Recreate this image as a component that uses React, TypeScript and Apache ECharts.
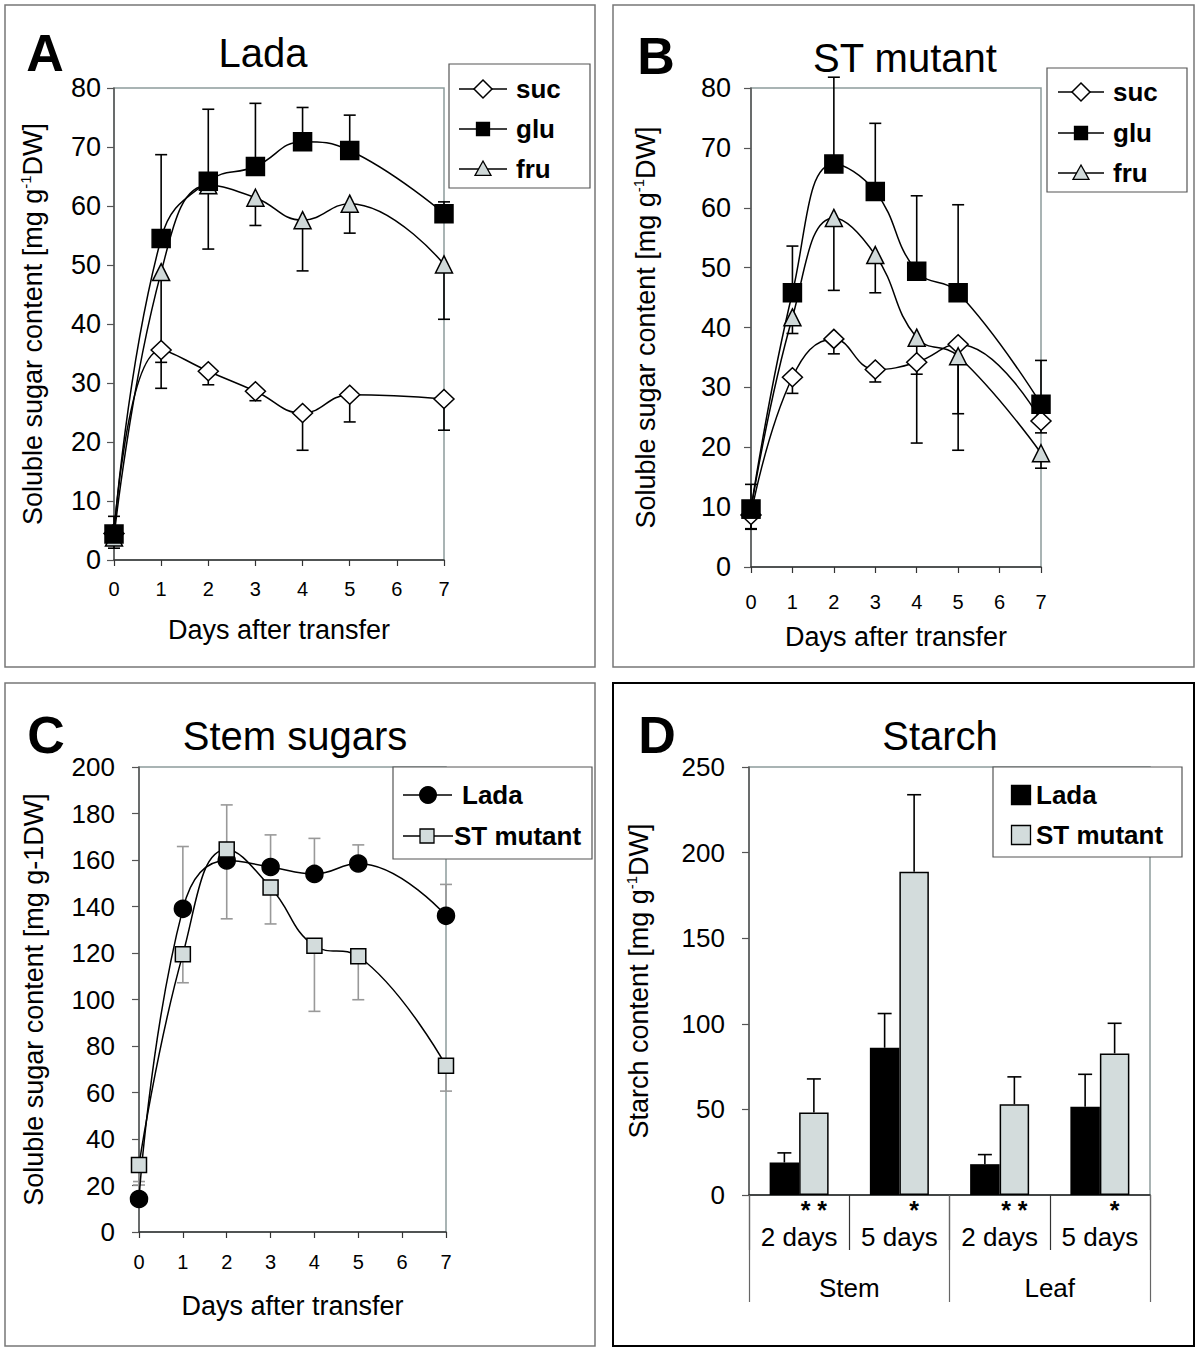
import React, { useEffect, useRef } from "react";
import * as echarts from "echarts";

// ---------- data ----------
const days = [0, 1, 2, 3, 4, 5, 7];

// Panel A (Lada leaf sugars)
const sucA = [4.5, 35.6, 32, 28.6, 24.9, 28, 27.3];
const sucErrA = [2, 6.5, 2.3, 1.6, 6.3, 4.6, 5.3]; // lower
const gluA = [4.4, 54.5, 64.2, 66.7, 70.9, 69.4, 58.7];
const gluErrA = [3, 14.2, 12.2, 10.7, 5.8, 6, 2]; // upper
const fruA = [3.8, 48.8, 63.5, 61.4, 57.6, 60.4, 50.1];
const fruErrA = [1.8, 15.3, 10.8, 4.7, 8.6, 5, 9.3]; // lower

// Panel B (ST mutant leaf sugars)
const sucB = [8.7, 31.7, 38.1, 33, 34.2, 37.2, 24.4];
const sucErrB = [2.4, 2.7, 2.5, 2.1, 2, 11.6, 2]; // lower
const gluB = [9.7, 45.8, 67.3, 62.7, 49.4, 45.8, 27.2];
const gluErrB = [4.1, 7.8, 14.5, 11.4, 12.6, 14.7, 7.3]; // upper
const fruB = [9.6, 41.7, 58.3, 52.1, 38.3, 35.2, 19];
const fruErrB = [3.2, 2.7, 12.1, 6.3, 17.6, 15.7, 2.5]; // lower

// Panel C (stem sugars)
const ladaC = [14.2, 139, 159.8, 157, 154, 158.5, 136];
const ladaErrC = [7.5, 26.8, 23.9, 13.8, 15.3, 8, 13.5]; // upper
const stC = [28.8, 119.5, 164.5, 148.2, 123.1, 118.6, 71.5];
const stErrC = [8.6, 12.3, 29.8, 15.7, 28.2, 18.7, 10.9]; // lower

// Panel D (starch)
const partLabels = ["2 days", "5 days", "2 days", "5 days"];
const organLabels = ["Stem", "Leaf"];
const ladaD = [19, 86, 18, 51.5];
const ladaErrD = [5.6, 20, 5.6, 19];
const stD = [48.2, 188.8, 53, 82.7];
const stErrD = [19.6, 45, 16, 17.6];
const sigD = ["* *", "*", "* *", "*"];

// ---------- styles ----------
const FONT = "'Liberation Sans', Arial, Helvetica, sans-serif";
const FRU_FILL = "#d0d9d9";
const ST_FILL = "#d3dcdc";
const FRAME_GRAY = "#8d9c9c";
const BAR_W = 29.5;

const supRich = {
  sup: { fontSize: 15, lineHeight: 14, verticalAlign: "top", fontFamily: FONT, color: "#000" },
};

function lineSeries(name: string, vals: number[], gi: number, symbol: string, size: number | number[], fill: string) {
  return {
    type: "line",
    name,
    xAxisIndex: gi,
    yAxisIndex: gi,
    data: days.map((d, i) => [d, vals[i]]),
    smooth: 0.45,
    symbol,
    symbolSize: size,
    showAllSymbol: true,
    lineStyle: { color: "#000", width: 1.5 },
    itemStyle: { color: fill, borderColor: "#000", borderWidth: 1.5 },
    z: 3,
  };
}

function errSeries(vals: number[], errs: number[], dir: number, gi: number, color: string) {
  return {
    type: "custom",
    xAxisIndex: gi,
    yAxisIndex: gi,
    encode: { x: 0, y: [1, 2] },
    data: days.map((d, i) => [d, vals[i], vals[i] + dir * errs[i]]),
    z: 2,
    renderItem: (params: any, api: any) => {
      const x = api.value(0);
      const p0 = api.coord([x, api.value(1)]);
      const p1 = api.coord([x, api.value(2)]);
      const st = { stroke: color, lineWidth: 1.6 };
      return {
        type: "group",
        children: [
          { type: "line", shape: { x1: p0[0], y1: p0[1], x2: p1[0], y2: p1[1] }, style: st },
          { type: "line", shape: { x1: p1[0] - 6, y1: p1[1], x2: p1[0] + 6, y2: p1[1] }, style: st },
        ],
      };
    },
  };
}

function barErrSeries(vals: number[], errs: number[], side: number) {
  return {
    type: "custom",
    xAxisIndex: 3,
    yAxisIndex: 3,
    encode: { x: 0, y: [1, 2] },
    data: vals.map((v, i) => [i, v, v + errs[i]]),
    z: 4,
    renderItem: (params: any, api: any) => {
      const c = api.value(0);
      const p0 = api.coord([c, api.value(1)]);
      const p1 = api.coord([c, api.value(2)]);
      const x = p0[0] + (side * BAR_W) / 2;
      const st = { stroke: "#000", lineWidth: 1.6 };
      return {
        type: "group",
        children: [
          { type: "line", shape: { x1: x, y1: p0[1], x2: x, y2: p1[1] }, style: st },
          { type: "line", shape: { x1: x - 7, y1: p1[1], x2: x + 7, y2: p1[1] }, style: st },
        ],
      };
    },
  };
}

function dayAxis(gi: number, labelMargin: number, nameGap: number) {
  return {
    type: "value",
    gridIndex: gi,
    min: 0,
    max: 7,
    interval: 1,
    name: "Days after transfer",
    nameLocation: "middle",
    nameGap,
    nameTextStyle: { fontSize: 27, color: "#000", fontFamily: FONT },
    axisLine: { show: true, onZero: false, lineStyle: { color: "#333", width: 1.5 } },
    axisTick: { show: true, length: 6, lineStyle: { color: "#333", width: 1.2 } },
    axisLabel: { fontSize: 20, color: "#000", margin: labelMargin, fontFamily: FONT },
    splitLine: { show: false },
  };
}

function valAxis(gi: number, max: number, interval: number, name: string, nameGap: number, labelSize: number, labelMargin: number) {
  return {
    type: "value",
    gridIndex: gi,
    min: 0,
    max,
    interval,
    name,
    nameLocation: "middle",
    nameGap,
    nameRotate: 90,
    nameTextStyle: { fontSize: 27, lineHeight: 30, color: "#000", fontFamily: FONT, rich: supRich },
    axisLine: { show: true, lineStyle: { color: "#555", width: 1.5 } },
    axisTick: { show: true, length: 7, lineStyle: { color: "#555", width: 1.2 } },
    axisLabel: { fontSize: labelSize, color: "#000", margin: labelMargin, fontFamily: FONT },
    splitLine: { show: false },
  };
}

function frame(x: number, y: number, w: number, h: number, color: string, lw: number) {
  return { type: "rect", shape: { x, y, width: w, height: h }, style: { fill: "none", stroke: color, lineWidth: lw }, z: 100 };
}
function txt(text: string, x: number, y: number, size: number, bold = false, align = "center") {
  return {
    type: "text",
    x,
    y,
    z: 102,
    style: {
      text,
      fill: "#000",
      font: `${bold ? "bold " : ""}${size}px ${FONT}`,
      align,
      verticalAlign: "middle",
    },
  };
}
function box(x: number, y: number, w: number, h: number) {
  return { type: "rect", shape: { x, y, width: w, height: h }, style: { fill: "#fff", stroke: "#555", lineWidth: 1.2 }, z: 100 };
}
function hline(x1: number, x2: number, y: number) {
  return { type: "line", shape: { x1, y1: y, x2, y2: y }, style: { stroke: "#000", lineWidth: 1.5 }, z: 101 };
}
function diamond(cx: number, cy: number, r: number) {
  return {
    type: "polygon",
    shape: { points: [[cx, cy - r], [cx + r, cy], [cx, cy + r], [cx - r, cy]] },
    style: { fill: "#fff", stroke: "#000", lineWidth: 1.5 },
    z: 102,
  };
}
function square(cx: number, cy: number, s: number, fill: string) {
  return {
    type: "rect",
    shape: { x: cx - s / 2, y: cy - s / 2, width: s, height: s },
    style: { fill, stroke: "#000", lineWidth: 1.3 },
    z: 102,
  };
}
function triangle(cx: number, cy: number, r: number) {
  return {
    type: "polygon",
    shape: { points: [[cx, cy - r], [cx + r, cy + r * 0.8], [cx - r, cy + r * 0.8]] },
    style: { fill: FRU_FILL, stroke: "#000", lineWidth: 1.3 },
    z: 102,
  };
}
function dot(cx: number, cy: number, r: number) {
  return { type: "circle", shape: { cx, cy, r }, style: { fill: "#000" }, z: 102 };
}

function sugarLegend(x: number, y: number, w: number, h: number, rows: number[], lx1: number, lx2: number, tx: number) {
  const mx = (lx1 + lx2) / 2;
  return [
    box(x, y, w, h),
    hline(lx1, lx2, rows[0]),
    diamond(mx, rows[0], 9),
    txt("suc", tx, rows[0], 26, true, "left"),
    hline(lx1, lx2, rows[1]),
    square(mx, rows[1], 13, "#000"),
    txt("glu", tx, rows[1], 26, true, "left"),
    hline(lx1, lx2, rows[2]),
    triangle(mx, rows[2], 8),
    txt("fru", tx, rows[2], 26, true, "left"),
  ];
}

export default function App() {
  const ref = useRef<HTMLDivElement>(null);
  useEffect(() => {
    if (!ref.current) return;
    const chart = echarts.init(ref.current, undefined, { renderer: "svg" });
    const sugarName = "Soluble sugar content [mg g{sup|-1}DW]";
    const option: any = {
      animation: false,
      backgroundColor: "#fff",
      textStyle: { fontFamily: FONT },
      grid: [
        { left: 114, top: 88, width: 330, height: 472, show: true, borderColor: FRAME_GRAY, borderWidth: 1.5, backgroundColor: "transparent" },
        { left: 751, top: 88, width: 290, height: 479, show: true, borderColor: FRAME_GRAY, borderWidth: 1.5, backgroundColor: "transparent" },
        { left: 139, top: 767, width: 307, height: 465, show: true, borderColor: FRAME_GRAY, borderWidth: 1.5, backgroundColor: "transparent" },
        { left: 749, top: 767, width: 401, height: 428, show: true, borderColor: FRAME_GRAY, borderWidth: 1.5, backgroundColor: "transparent" },
      ],
      xAxis: [
        dayAxis(0, 19, 56),
        dayAxis(1, 25, 56),
        dayAxis(2, 20, 60),
        {
          type: "category",
          gridIndex: 3,
          data: partLabels,
          axisLine: { show: true, lineStyle: { color: "#222", width: 1.5 } },
          axisTick: { show: true, length: 55, lineStyle: { color: "#333", width: 1.2 } },
          axisLabel: { fontSize: 26, color: "#000", margin: 29, fontFamily: FONT },
          splitLine: { show: false },
        },
        {
          type: "category",
          gridIndex: 3,
          position: "bottom",
          data: organLabels,
          axisLine: { show: false },
          axisTick: { show: true, length: 107, lineStyle: { color: "#666", width: 1.2 } },
          axisLabel: { fontSize: 26, color: "#000", margin: 80, fontFamily: FONT },
          splitLine: { show: false },
        },
      ],
      yAxis: [
        valAxis(0, 80, 10, sugarName, 66, 27, 13),
        valAxis(1, 80, 10, sugarName, 90, 27, 20),
        valAxis(2, 200, 20, "Soluble sugar content [mg g-1DW]", 90, 26, 24),
        valAxis(3, 250, 50, "Starch content [mg g{sup|-1}DW]", 95, 26, 24),
      ],
      series: [
        // A
        errSeries(sucA, sucErrA, -1, 0, "#000"),
        errSeries(gluA, gluErrA, 1, 0, "#000"),
        errSeries(fruA, fruErrA, -1, 0, "#000"),
        lineSeries("suc", sucA, 0, "diamond", [20, 19], "#fff"),
        lineSeries("fru", fruA, 0, "triangle", 17, FRU_FILL),
        lineSeries("glu", gluA, 0, "rect", 18, "#000"),
        // B
        errSeries(sucB, sucErrB, -1, 1, "#000"),
        errSeries(gluB, gluErrB, 1, 1, "#000"),
        errSeries(fruB, fruErrB, -1, 1, "#000"),
        lineSeries("suc", sucB, 1, "diamond", [20, 19], "#fff"),
        lineSeries("fru", fruB, 1, "triangle", 17, FRU_FILL),
        lineSeries("glu", gluB, 1, "rect", 18, "#000"),
        // C
        errSeries(ladaC, ladaErrC, 1, 2, "#999"),
        errSeries(stC, stErrC, -1, 2, "#999"),
        lineSeries("Lada", ladaC, 2, "circle", 17, "#000"),
        lineSeries("ST mutant", stC, 2, "rect", 15, ST_FILL),
        // D
        {
          type: "bar",
          name: "Lada",
          xAxisIndex: 3,
          yAxisIndex: 3,
          data: ladaD,
          barWidth: BAR_W,
          barGap: "0%",
          itemStyle: { color: "#000" },
          z: 2,
        },
        {
          type: "bar",
          name: "ST mutant",
          xAxisIndex: 3,
          yAxisIndex: 3,
          data: stD,
          barWidth: BAR_W,
          barGap: "0%",
          itemStyle: { color: ST_FILL, borderColor: "#000", borderWidth: 1.5 },
          label: {
            show: true,
            position: "bottom",
            distance: 2,
            formatter: (p: any) => sigD[p.dataIndex],
            fontSize: 25,
            fontWeight: "bold",
            color: "#000",
            fontFamily: FONT,
          },
          z: 2,
        },
        barErrSeries(ladaD, ladaErrD, -1),
        barErrSeries(stD, stErrD, 1),
      ],
      graphic: [
        // frames
        frame(5, 5, 590, 662, "#777", 1.5),
        frame(613, 5, 581, 662, "#777", 1.5),
        frame(5, 683, 590, 663, "#777", 1.5),
        frame(613, 683, 581, 663, "#000", 2),
        // letters & titles
        txt("A", 45, 53, 52, true),
        txt("Lada", 263, 53, 40),
        txt("B", 656, 56, 52, true),
        txt("ST mutant", 905, 58, 40),
        txt("C", 46, 735, 52, true),
        txt("Stem sugars", 295, 736, 40),
        txt("D", 657, 735, 52, true),
        txt("Starch", 940, 736, 40),
        // legends
        ...sugarLegend(449, 64, 141, 124, [89, 129, 169], 459, 507, 516),
        ...sugarLegend(1047, 68, 140, 124, [92, 133, 173], 1058, 1104, 1113),
        box(393, 767, 199, 92),
        hline(403, 452, 795),
        dot(428, 795, 9),
        txt("Lada", 462, 795, 26, true, "left"),
        hline(403, 453, 836),
        square(427, 836, 14, ST_FILL),
        txt("ST mutant", 454, 836, 26, true, "left"),
        box(993, 767, 189, 90),
        square(1021, 795, 19, "#000"),
        txt("Lada", 1036, 795, 26, true, "left"),
        square(1021, 835, 19, ST_FILL),
        txt("ST mutant", 1036, 835, 26, true, "left"),
      ],
    };
    chart.setOption(option);
    return () => chart.dispose();
  }, []);
  return (
    <div
      ref={ref}
      style={{ position: "absolute", left: 0, top: 0, width: 1200, height: 1352, background: "#fff" }}
    />
  );
}
